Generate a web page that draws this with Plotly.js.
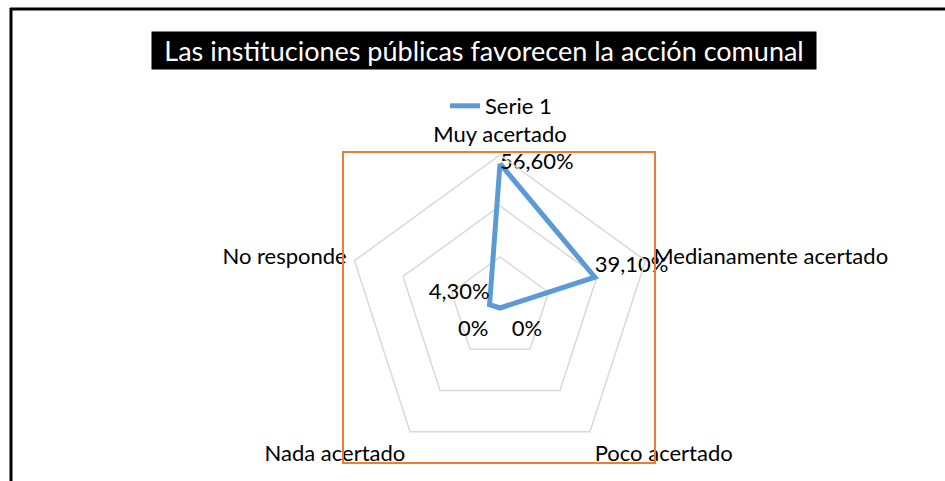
<!DOCTYPE html>
<html>
<head>
<meta charset="utf-8">
<script src="https://cdn.plot.ly/plotly-3.0.1.min.js"></script>
<style>html,body{margin:0;padding:0;background:#fff;}#chart{width:945px;height:481px;}</style>
</head>
<body>
<div id="chart"></div>
<script>
const categories = ['Muy acertado', 'Medianamente acertado', 'Poco acertado', 'Nada acertado', 'No responde'];
const values = [56.6, 39.1, 0, 0, 4.3];
const seriesName = 'Serie 1';
const chartTitle = 'Las instituciones públicas favorecen la acción comunal';
const labelPositions = ['middle right', 'top right', 'bottom right', 'bottom left', 'top left'];

const W = 945, H = 481;
const px = x => x / W;
const py = y => 1 - y / H;

function fmt(v) {
  if (v === 0) return '0%';
  return v.toFixed(2).replace('.', ',') + '%';
}

const theta = categories.concat([categories[0]]);
const r = values.concat([values[0]]);
// Plotly hides text anchored exactly on the polar centre, so data labels are
// placed at the value, nudged off the exact centre by a negligible amount.
const labelR = values.map(v => Math.max(v, 0.05));
const labelText = values.map(fmt);

const FONT = 'Lato, "Open Sans", sans-serif';
const FS = 22;

const lineTrace = {
  type: 'scatterpolar',
  mode: 'lines',
  name: seriesName,
  theta: theta,
  r: r,
  line: {color: '#5b9bd5', width: 5},
  cliponaxis: false,
  hoverinfo: 'skip'
};

const labelTrace = {
  type: 'scatterpolar',
  mode: 'markers+text',
  name: seriesName,
  showlegend: false,
  theta: categories,
  r: labelR,
  text: labelText,
  textposition: labelPositions,
  textfont: {family: FONT, size: FS, color: '#000'},
  // invisible markers: larger padding for the labels sitting at the centre
  marker: {size: values.map(v => (v === 0 ? 17 : 0)), opacity: 0, color: '#5b9bd5'},
  cliponaxis: false,
  hoverinfo: 'skip'
};

const layout = {
  width: W, height: H,
  margin: {l: 0, r: 0, t: 0, b: 0},
  paper_bgcolor: '#fff',
  font: {family: FONT, size: FS, color: '#000'},
  showlegend: true,
  legend: {
    orientation: 'h', x: px(445), y: py(85), xanchor: 'left', yanchor: 'top',
    font: {family: FONT, size: FS, color: '#000'}, bgcolor: 'rgba(0,0,0,0)'
  },
  polar: {
    domain: {x: [px(347), px(653)], y: [py(461), py(155)]},
    bgcolor: '#fff',
    gridshape: 'linear',
    radialaxis: {
      range: [0, 60], dtick: 20, showticklabels: false, ticks: '',
      showline: false, gridcolor: '#d9d9d9', gridwidth: 1.5
    },
    angularaxis: {
      rotation: 90, direction: 'clockwise', showgrid: false,
      showline: true, linecolor: '#d9d9d9', linewidth: 1.5,
      ticks: 'outside', ticklen: 3, tickcolor: 'rgba(0,0,0,0)',
      tickfont: {family: FONT, size: FS, color: '#000'}
    }
  },
  annotations: [{
    text: chartTitle, xref: 'paper', yref: 'paper',
    x: px(484), y: py(50.5), xanchor: 'center', yanchor: 'middle',
    showarrow: false, bgcolor: '#000', width: 664, height: 37, borderpad: 0,
    font: {family: FONT, size: 27, color: '#fff'}
  }],
  shapes: [
    {type: 'line', xref: 'paper', yref: 'paper', x0: px(11), x1: px(11), y0: py(8), y1: 0,
     line: {color: '#000', width: 3}},
    {type: 'line', xref: 'paper', yref: 'paper', x0: px(10), x1: 1, y0: py(9), y1: py(9),
     line: {color: '#000', width: 3}},
    {type: 'rect', xref: 'paper', yref: 'paper', x0: px(343), x1: px(655), y0: py(152), y1: py(463),
     line: {color: '#ed7d31', width: 2}, layer: 'above'}
  ]
};

Plotly.newPlot('chart', [lineTrace, labelTrace], layout, {displayModeBar: false, staticPlot: true});
</script>
</body>
</html>
